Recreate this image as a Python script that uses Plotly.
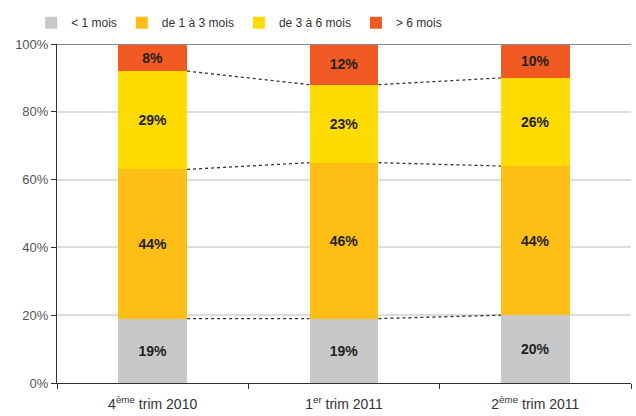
"""Répartition par durée, trois trimestres, barres empilées à 100 %."""

import plotly.graph_objects as go

periods = ["4<sup>ème</sup> trim 2010", "1<sup>er</sup> trim 2011", "2<sup>ème</sup> trim 2011"]
series_names = ["< 1 mois", "de 1 à 3 mois", "de 3 à 6 mois", "> 6 mois"]
moins_1 = [19, 19, 20]
de_1_a_3 = [44, 46, 44]
de_3_a_6 = [29, 23, 26]
plus_6 = [8, 12, 10]

colors = ["#C8C8C8", "#FDBE16", "#FFDB00", "#F15A22"]
bar_width = 0.36
font_family = "Liberation Sans Narrow, Arial Narrow, Liberation Sans, Arial"

x_pos = list(range(len(periods)))
series = [moins_1, de_1_a_3, de_3_a_6, plus_6]

fig = go.Figure()
for name, values, color in zip(series_names, series, colors):
    fig.add_trace(
        go.Bar(
            x=x_pos,
            y=values,
            name=name,
            width=bar_width,
            marker=dict(color=color, line=dict(width=0)),
            text=[f"<b>{v}%</b>" for v in values],
            textposition="inside",
            insidetextanchor="middle",
            textfont=dict(color="#222222", size=14, family=font_family),
            hoverinfo="skip",
        )
    )

# dotted connectors between the cumulative boundaries of adjacent bars
cumul = []
running = [0] * len(periods)
for values in series[:-1]:
    running = [r + v for r, v in zip(running, values)]
    cumul.append(running)

for level in cumul:
    for i in range(len(periods) - 1):
        fig.add_trace(
            go.Scatter(
                x=[x_pos[i] + bar_width / 2, x_pos[i + 1] - bar_width / 2],
                y=[level[i], level[i + 1]],
                mode="lines",
                line=dict(color="#333333", width=1.3, dash="dot"),
                showlegend=False,
                hoverinfo="skip",
            )
        )

fig.update_layout(
    barmode="stack",
    width=636,
    height=416,
    margin=dict(l=57, r=5, t=44, b=33, autoexpand=False),
    paper_bgcolor="white",
    plot_bgcolor="white",
    font=dict(family=font_family, color="#333333", size=14),
    legend=dict(
        orientation="h",
        x=-0.045,
        y=1.02,
        xanchor="left",
        yanchor="bottom",
        font=dict(size=12, color="#333333"),
        traceorder="normal",
    ),
)
fig.update_xaxes(
    range=[-0.5, len(periods) - 0.5],
    tickvals=x_pos,
    ticktext=periods,
    ticks="",
    ticklabelstandoff=8,
    showline=True,
    linecolor="#333333",
    linewidth=1,
    showgrid=False,
    zeroline=False,
    tickfont=dict(size=14, color="#333333"),
    minor=dict(tick0=-0.5, dtick=1, ticks="outside", ticklen=5, tickcolor="#333333", showgrid=False),
)
fig.update_yaxes(
    range=[0, 100],
    tickvals=[0, 20, 40, 60, 80, 100],
    ticktext=["0%", "20%", "40%", "60%", "80%", "100%"],
    ticks="outside",
    ticklen=5,
    tickcolor="#333333",
    showline=True,
    linecolor="#333333",
    linewidth=1,
    showgrid=True,
    gridcolor="#DDDDDD",
    gridwidth=1.5,
    zeroline=False,
    tickfont=dict(size=13, color="#555555"),
)
# darker line at 100 %
fig.add_hline(y=100, line=dict(color="#888888", width=2))

# the page's default body margin would shift the chart by 8px
fig.write_html(
    "out.html",
    config={"displayModeBar": False},
    post_script="document.body.style.margin = '0';",
)
